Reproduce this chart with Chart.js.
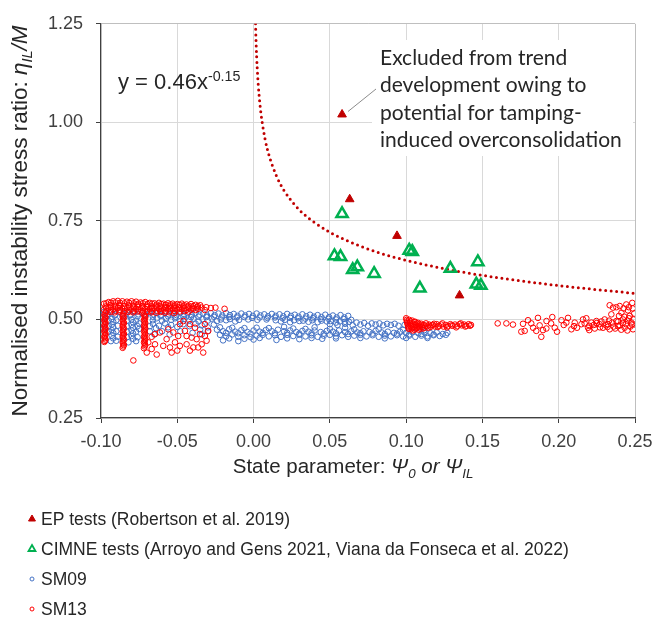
<!DOCTYPE html>
<html>
<head>
<meta charset="utf-8">
<title>Instability stress ratio vs state parameter</title>
<script src="https://cdn.jsdelivr.net/npm/chart.js@4.4.1/dist/chart.umd.min.js"></script>
<style>
  html, body { margin: 0; padding: 0; background: #ffffff; }
  #wrap { position: relative; width: 671px; height: 630px; }
</style>
</head>
<body>
<div id="wrap"><canvas id="chart" width="671" height="630"></canvas></div>
<script>
// ---- data ----
const X_TICKS = [-0.10, -0.05, 0.00, 0.05, 0.10, 0.15, 0.20, 0.25];
const Y_TICKS = [0.25, 0.50, 0.75, 1.00, 1.25];

// EP tests (Robertson et al. 2019) - first point is the excluded one
const EP = [[0.058, 1.020], [0.063, 0.805], [0.094, 0.712], [0.135, 0.561]];

// CIMNE tests
const CIMNE = [
  [0.058, 0.768], [0.053, 0.661], [0.057, 0.659], [0.065, 0.626], [0.068, 0.633],
  [0.079, 0.616], [0.102, 0.675], [0.104, 0.672], [0.109, 0.579], [0.129, 0.629],
  [0.147, 0.646], [0.146, 0.589], [0.149, 0.586]
];

// trend line y = 0.46x^-0.15
const TREND_X = [0.0013, 0.0015, 0.002, 0.0025, 0.003, 0.004, 0.005, 0.0075, 0.01, 0.015, 0.02, 0.03, 0.04, 0.05, 0.06, 0.08, 0.10, 0.13, 0.16, 0.20, 0.25];
const TREND_Y = [1.250, 1.220, 1.168, 1.130, 1.099, 1.053, 1.018, 0.958, 0.918, 0.864, 0.827, 0.778, 0.746, 0.721, 0.702, 0.672, 0.650, 0.625, 0.606, 0.586, 0.566];

// SM09 (blue circles)
const SM09 = [
  // upper band
  [-0.098, 0.519], [-0.093, 0.518], [-0.088, 0.520], [-0.083, 0.518], [-0.078, 0.519], [-0.073, 0.517], [-0.068, 0.518],
  [-0.063, 0.517], [-0.058, 0.518], [-0.053, 0.516], [-0.048, 0.517], [-0.043, 0.516], [-0.038, 0.517], [-0.033, 0.515],
  [-0.028, 0.516], [-0.023, 0.515], [-0.018, 0.516], [-0.013, 0.514], [-0.008, 0.515], [-0.003, 0.514], [0.002, 0.515],
  [0.007, 0.513], [0.012, 0.514], [0.017, 0.513], [0.022, 0.514], [0.027, 0.512], [0.032, 0.513], [0.037, 0.512],
  [0.042, 0.511], [0.047, 0.512], [0.052, 0.510], [0.057, 0.511], [0.062, 0.509],
  [-0.0955, 0.514], [-0.0905, 0.513], [-0.0855, 0.514], [-0.0805, 0.512], [-0.0755, 0.513], [-0.0705, 0.512],
  [-0.0655, 0.513], [-0.0605, 0.512], [-0.0555, 0.513], [-0.0505, 0.511], [-0.0455, 0.512], [-0.0405, 0.511],
  [-0.0355, 0.512], [-0.0305, 0.510], [-0.0255, 0.511], [-0.0205, 0.510], [-0.0155, 0.511], [-0.0105, 0.509],
  [-0.0055, 0.510], [-0.0005, 0.509], [0.0045, 0.510], [0.0095, 0.508], [0.0145, 0.509], [0.0195, 0.508],
  [0.0245, 0.509], [0.0295, 0.507], [0.0345, 0.508], [0.0395, 0.507], [0.0445, 0.506], [0.0495, 0.506],
  [0.0545, 0.505], [0.0595, 0.505],
  [-0.096, 0.509], [-0.091, 0.510], [-0.086, 0.508], [-0.081, 0.510], [-0.076, 0.508], [-0.071, 0.509], [-0.066, 0.507],
  [-0.061, 0.509], [-0.056, 0.508], [-0.051, 0.507], [-0.046, 0.508], [-0.041, 0.506], [-0.036, 0.507], [-0.031, 0.506],
  [-0.026, 0.507], [-0.021, 0.505], [-0.016, 0.506], [-0.011, 0.505], [-0.006, 0.506], [-0.001, 0.504], [0.004, 0.505],
  [0.009, 0.504], [0.014, 0.505], [0.019, 0.503], [0.024, 0.504], [0.029, 0.503], [0.034, 0.502], [0.039, 0.503],
  [0.044, 0.501], [0.049, 0.502], [0.054, 0.500], [0.059, 0.501], [0.064, 0.499],
  [-0.0635, 0.503], [-0.0575, 0.502], [-0.0515, 0.503], [-0.0455, 0.501], [-0.0395, 0.502], [-0.0335, 0.501],
  [-0.0275, 0.502], [-0.0215, 0.500], [-0.0155, 0.501], [-0.0095, 0.499], [-0.0035, 0.500], [0.0025, 0.499],
  [0.0085, 0.500], [0.0145, 0.498], [0.0205, 0.499], [0.0265, 0.498], [0.0325, 0.497], [0.0385, 0.498],
  [0.0445, 0.497], [0.0505, 0.496], [0.0565, 0.495], [0.0625, 0.494], [0.0675, 0.492], [0.0725, 0.491],
  [0.0775, 0.490], [0.0825, 0.490], [0.0875, 0.489], [0.0925, 0.489],
  [-0.066, 0.498], [-0.060, 0.497], [-0.054, 0.499], [-0.048, 0.496], [-0.042, 0.498], [-0.036, 0.495], [-0.030, 0.497],
  [-0.024, 0.496], [-0.018, 0.498], [-0.012, 0.495], [0.018, 0.495], [0.024, 0.493], [0.030, 0.496], [0.036, 0.494],
  [0.042, 0.493], [0.048, 0.495], [0.054, 0.492], [0.060, 0.494],
  [0.050, 0.488], [0.055, 0.486], [0.060, 0.489], [0.065, 0.485], [0.070, 0.487], [0.075, 0.484], [0.080, 0.487],
  [0.085, 0.485], [0.090, 0.486], [0.095, 0.484], [0.099, 0.486],
  // left columns below the band
  [-0.093, 0.501], [-0.092, 0.494], [-0.093, 0.487], [-0.092, 0.480], [-0.093, 0.473], [-0.092, 0.466], [-0.093, 0.459],
  [-0.092, 0.452], [-0.090, 0.498], [-0.089, 0.484], [-0.090, 0.470], [-0.089, 0.456], [-0.090, 0.446],
  [-0.080, 0.500], [-0.079, 0.493], [-0.080, 0.486], [-0.079, 0.479], [-0.080, 0.472], [-0.079, 0.465], [-0.080, 0.458],
  [-0.079, 0.451], [-0.077, 0.497], [-0.076, 0.483], [-0.077, 0.469], [-0.076, 0.455], [-0.077, 0.445],
  [-0.095, 0.497], [-0.095, 0.483], [-0.095, 0.469],
  [-0.0985, 0.505], [-0.0985, 0.490], [-0.0985, 0.476], [-0.0935, 0.445], [-0.083, 0.497], [-0.083, 0.483],
  [-0.083, 0.469], [-0.083, 0.455], [-0.082, 0.442], [-0.075, 0.490], [-0.075, 0.476], [-0.068, 0.483],
  [-0.068, 0.470], [-0.065, 0.462],
  [-0.066, 0.489], [-0.062, 0.484], [-0.058, 0.490], [-0.054, 0.486], [-0.050, 0.481], [-0.046, 0.488], [-0.042, 0.483],
  [-0.038, 0.489], [-0.034, 0.485], [-0.030, 0.480], [-0.026, 0.487], [-0.064, 0.478], [-0.056, 0.480],
  [-0.060, 0.470], [-0.055, 0.462], [-0.048, 0.470], [-0.040, 0.466], [-0.035, 0.474],
  // lower band
  [-0.024, 0.474], [-0.020, 0.470], [-0.016, 0.475], [-0.012, 0.469], [-0.008, 0.473], [-0.004, 0.468], [0.000, 0.472],
  [0.004, 0.469], [0.008, 0.473], [0.012, 0.470], [0.016, 0.474], [0.020, 0.470], [0.024, 0.472], [0.028, 0.468],
  [0.032, 0.471], [0.036, 0.469], [0.040, 0.472], [0.044, 0.468], [0.048, 0.471], [0.052, 0.469], [0.056, 0.472],
  [0.060, 0.468], [0.064, 0.470], [0.068, 0.467], [0.072, 0.470], [0.076, 0.468], [0.080, 0.471], [0.084, 0.467],
  [0.088, 0.469], [0.092, 0.466], [0.096, 0.469], [0.100, 0.466], [0.104, 0.468], [0.108, 0.465], [0.112, 0.467],
  [0.116, 0.465], [0.120, 0.467],
  [-0.018, 0.466], [-0.010, 0.465], [-0.002, 0.464], [0.006, 0.466], [0.014, 0.465], [0.022, 0.466], [0.030, 0.464],
  [0.038, 0.465], [0.046, 0.464], [0.054, 0.465], [0.062, 0.463], [0.070, 0.465], [0.078, 0.464], [0.086, 0.463],
  [0.094, 0.464], [0.102, 0.462], [0.110, 0.463], [0.118, 0.462], [0.124, 0.463],
  [-0.022, 0.480], [-0.014, 0.479], [-0.006, 0.478], [0.002, 0.479], [0.010, 0.478], [0.026, 0.477], [0.034, 0.476],
  [0.050, 0.476], [0.066, 0.475], [0.082, 0.475], [0.098, 0.474], [0.112, 0.473],
  [-0.022, 0.461], [-0.018, 0.457], [-0.014, 0.462], [-0.010, 0.456], [-0.006, 0.460], [-0.002, 0.455], [0.002, 0.459],
  [0.006, 0.461], [0.010, 0.457], [0.014, 0.460], [0.018, 0.456], [0.022, 0.461], [0.026, 0.458], [0.030, 0.461],
  [0.034, 0.457], [0.038, 0.460], [0.042, 0.456], [0.046, 0.459], [0.050, 0.461], [0.054, 0.457], [0.058, 0.460],
  [0.062, 0.456], [0.066, 0.459], [0.070, 0.461], [0.074, 0.457], [0.078, 0.460], [0.082, 0.456], [0.086, 0.459],
  [0.090, 0.457], [0.094, 0.460], [0.098, 0.457], [0.102, 0.459], [0.106, 0.456], [0.110, 0.459], [0.114, 0.457],
  [0.118, 0.460], [0.122, 0.458], [0.126, 0.461],
  [-0.016, 0.452], [-0.006, 0.451], [0.004, 0.453], [0.022, 0.452], [0.038, 0.453], [0.054, 0.452], [0.070, 0.453],
  [0.086, 0.452], [0.100, 0.453], [0.114, 0.453],
  [-0.020, 0.447], [-0.010, 0.445], [0.000, 0.449], [0.015, 0.448], [0.030, 0.450], [0.045, 0.451], [-0.030, 0.470],
  [-0.034, 0.462], [0.127, 0.466], [0.060, 0.479], [0.040, 0.480], [0.020, 0.481]
];

// SM13 (red circles)
const SM13 = [
  // dense band on the loose side
  [-0.098, 0.540], [-0.095, 0.544], [-0.092, 0.546], [-0.089, 0.547], [-0.086, 0.546], [-0.083, 0.545], [-0.080, 0.546],
  [-0.077, 0.545], [-0.074, 0.543], [-0.071, 0.544], [-0.068, 0.542], [-0.065, 0.541], [-0.062, 0.542], [-0.059, 0.540],
  [-0.056, 0.541], [-0.053, 0.540], [-0.050, 0.539], [-0.047, 0.540], [-0.044, 0.538], [-0.041, 0.539], [-0.038, 0.537],
  [-0.035, 0.536],
  [-0.0965, 0.541], [-0.0935, 0.542], [-0.0905, 0.543], [-0.0875, 0.542], [-0.0845, 0.541], [-0.0815, 0.542],
  [-0.0785, 0.541], [-0.0755, 0.540], [-0.0725, 0.541], [-0.0695, 0.539], [-0.0665, 0.540], [-0.0635, 0.538],
  [-0.0605, 0.539], [-0.0575, 0.537], [-0.0545, 0.538], [-0.0515, 0.536], [-0.0485, 0.537], [-0.0455, 0.536],
  [-0.0425, 0.535], [-0.0395, 0.534], [-0.0365, 0.534],
  [-0.097, 0.533], [-0.094, 0.536], [-0.091, 0.535], [-0.088, 0.537], [-0.085, 0.534], [-0.082, 0.536], [-0.079, 0.535],
  [-0.076, 0.537], [-0.073, 0.534], [-0.070, 0.535], [-0.067, 0.533], [-0.064, 0.535], [-0.061, 0.534], [-0.058, 0.532],
  [-0.055, 0.534], [-0.052, 0.533], [-0.049, 0.531], [-0.046, 0.533], [-0.043, 0.532], [-0.040, 0.530], [-0.037, 0.531],
  [-0.034, 0.530],
  [-0.0965, 0.530], [-0.0935, 0.532], [-0.0905, 0.531], [-0.0875, 0.533], [-0.0845, 0.530], [-0.0815, 0.532],
  [-0.0785, 0.531], [-0.0755, 0.532], [-0.0725, 0.530], [-0.0695, 0.531], [-0.0665, 0.529], [-0.0635, 0.531],
  [-0.0605, 0.530], [-0.0575, 0.529], [-0.0545, 0.530], [-0.0515, 0.529], [-0.0485, 0.528], [-0.0455, 0.529],
  [-0.0425, 0.528], [-0.0395, 0.527], [-0.0365, 0.527],
  [-0.098, 0.525], [-0.095, 0.528], [-0.092, 0.526], [-0.089, 0.529], [-0.086, 0.527], [-0.083, 0.528], [-0.080, 0.526],
  [-0.077, 0.527], [-0.074, 0.525], [-0.071, 0.527], [-0.068, 0.526], [-0.065, 0.528], [-0.062, 0.526], [-0.059, 0.525],
  [-0.056, 0.527], [-0.053, 0.526], [-0.050, 0.525], [-0.047, 0.526], [-0.044, 0.524], [-0.041, 0.525], [-0.038, 0.524],
  [-0.0965, 0.521], [-0.0935, 0.523], [-0.0905, 0.522], [-0.0875, 0.524], [-0.0845, 0.521], [-0.0815, 0.523],
  [-0.0785, 0.522], [-0.0755, 0.523], [-0.0725, 0.521], [-0.0695, 0.522], [-0.0665, 0.521], [-0.0635, 0.522],
  [-0.0605, 0.521], [-0.0575, 0.521], [-0.0545, 0.522], [-0.0515, 0.521], [-0.0485, 0.520], [-0.0455, 0.521],
  [-0.0425, 0.520],
  [-0.097, 0.517], [-0.094, 0.519], [-0.091, 0.518], [-0.088, 0.520], [-0.085, 0.517], [-0.082, 0.519], [-0.079, 0.518],
  [-0.076, 0.520], [-0.073, 0.517], [-0.070, 0.519], [-0.067, 0.518], [-0.064, 0.517], [-0.061, 0.519], [-0.058, 0.517],
  [-0.055, 0.518], [-0.052, 0.516],
  [-0.031, 0.531], [-0.028, 0.529], [-0.025, 0.530], [-0.019, 0.527], [-0.032, 0.524],
  // vertical streaks
  [-0.0978, 0.512], [-0.0970, 0.505], [-0.0978, 0.498], [-0.0970, 0.491], [-0.0978, 0.484], [-0.0970, 0.477],
  [-0.0978, 0.470], [-0.0970, 0.463], [-0.0978, 0.456], [-0.0970, 0.449], [-0.0978, 0.443],
  [-0.0974, 0.5085], [-0.0974, 0.5015], [-0.0974, 0.4945], [-0.0974, 0.4875], [-0.0974, 0.4805], [-0.0974, 0.4735],
  [-0.0974, 0.4665], [-0.0974, 0.4595], [-0.0974, 0.4525], [-0.0974, 0.4455],
  [-0.0858, 0.512], [-0.0850, 0.505], [-0.0858, 0.498], [-0.0850, 0.491], [-0.0858, 0.484], [-0.0850, 0.477],
  [-0.0858, 0.470], [-0.0850, 0.463], [-0.0858, 0.456], [-0.0850, 0.449], [-0.0858, 0.442], [-0.0850, 0.435],
  [-0.0858, 0.428],
  [-0.0854, 0.5085], [-0.0854, 0.5015], [-0.0854, 0.4945], [-0.0854, 0.4875], [-0.0854, 0.4805], [-0.0854, 0.4735],
  [-0.0854, 0.4665], [-0.0854, 0.4595], [-0.0854, 0.4525], [-0.0854, 0.4455], [-0.0854, 0.4385], [-0.0854, 0.4315],
  [-0.0718, 0.512], [-0.0710, 0.505], [-0.0718, 0.498], [-0.0710, 0.491], [-0.0718, 0.484], [-0.0710, 0.477],
  [-0.0718, 0.470], [-0.0710, 0.463], [-0.0718, 0.456], [-0.0710, 0.449], [-0.0718, 0.442], [-0.0710, 0.435],
  [-0.0718, 0.427],
  [-0.0714, 0.5085], [-0.0714, 0.5015], [-0.0714, 0.4945], [-0.0714, 0.4875], [-0.0714, 0.4805], [-0.0714, 0.4735],
  [-0.0714, 0.4665], [-0.0714, 0.4595], [-0.0714, 0.4525], [-0.0714, 0.4455], [-0.0714, 0.4385], [-0.0714, 0.4315],
  // scattered below the band
  [-0.0788, 0.396], [-0.070, 0.416], [-0.0668, 0.425], [-0.0646, 0.437], [-0.0635, 0.411], [-0.0614, 0.467],
  [-0.057, 0.450], [-0.0548, 0.429], [-0.0537, 0.416], [-0.0515, 0.442], [-0.0494, 0.458], [-0.0483, 0.488],
  [-0.045, 0.471], [-0.0439, 0.437], [-0.0417, 0.421], [-0.0406, 0.454], [-0.0384, 0.479], [-0.0363, 0.429],
  [-0.0352, 0.463], [-0.033, 0.416], [-0.0319, 0.488], [-0.0308, 0.446], [-0.0297, 0.471], [-0.050, 0.421],
  [-0.0592, 0.433], [-0.046, 0.496], [-0.0417, 0.488], [-0.0373, 0.450], [-0.0483, 0.433], [-0.0559, 0.475],
  [-0.0668, 0.456], [-0.069, 0.442], [-0.0646, 0.463], [-0.0395, 0.429], [-0.034, 0.437], [-0.0526, 0.467],
  [-0.0439, 0.458], [-0.0319, 0.458],
  // blob near 0.10 and its tail
  [0.1000, 0.503], [0.1005, 0.495], [0.1010, 0.487], [0.1015, 0.480], [0.1020, 0.499], [0.1025, 0.491], [0.1030, 0.483],
  [0.1035, 0.476], [0.1040, 0.497], [0.1045, 0.489], [0.1050, 0.481], [0.1055, 0.474], [0.1060, 0.494], [0.1065, 0.486],
  [0.1070, 0.479], [0.1080, 0.491], [0.1085, 0.483], [0.1090, 0.477], [0.1100, 0.489], [0.1105, 0.481], [0.1115, 0.486],
  [0.1120, 0.479], [0.1130, 0.490], [0.1140, 0.483], [0.1150, 0.487], [0.1160, 0.481], [0.1175, 0.486], [0.1190, 0.482],
  [0.1003, 0.499], [0.1008, 0.491], [0.1013, 0.483], [0.1018, 0.476], [0.1028, 0.495], [0.1033, 0.487], [0.1038, 0.479],
  [0.1043, 0.472], [0.1053, 0.493], [0.1058, 0.485], [0.1063, 0.477], [0.1073, 0.489], [0.1078, 0.481], [0.1083, 0.474],
  [0.1095, 0.485], [0.1110, 0.477], [0.1125, 0.484], [0.1145, 0.479], [0.1165, 0.485], [0.1183, 0.489], [0.1208, 0.481],
  [0.1238, 0.490], [0.1268, 0.480], [0.1298, 0.485], [0.1328, 0.480], [0.1358, 0.490], [0.1388, 0.482], [0.1418, 0.484],
  [0.1200, 0.488], [0.1215, 0.484], [0.1230, 0.487], [0.1245, 0.482], [0.1260, 0.486], [0.1275, 0.483], [0.1290, 0.488],
  [0.1305, 0.484], [0.1320, 0.487], [0.1335, 0.483], [0.1350, 0.488], [0.1365, 0.485], [0.1380, 0.487], [0.1395, 0.484],
  [0.1410, 0.488], [0.1425, 0.486],
  // dense side, right
  [0.160, 0.490], [0.1657, 0.490], [0.1766, 0.489], [0.1777, 0.471], [0.1755, 0.469], [0.1799, 0.498], [0.1832, 0.479],
  [0.1864, 0.504], [0.1875, 0.485], [0.1853, 0.471], [0.1886, 0.456], [0.1897, 0.473], [0.1919, 0.477], [0.1958, 0.506],
  [0.1974, 0.479], [0.1989, 0.469], [0.2018, 0.498], [0.2033, 0.486], [0.2061, 0.504], [0.2083, 0.475], [0.2105, 0.492],
  [0.2120, 0.479], [0.2149, 0.488], [0.2159, 0.500], [0.2181, 0.503], [0.2192, 0.479], [0.2214, 0.492], [0.2236, 0.477],
  [0.2247, 0.496], [0.2268, 0.488], [0.2290, 0.479], [0.2301, 0.500], [0.2323, 0.488], [0.2334, 0.475], [0.2334, 0.536],
  [0.2356, 0.530], [0.2378, 0.496], [0.2389, 0.483], [0.2400, 0.534], [0.2411, 0.517], [0.2421, 0.500], [0.2432, 0.479],
  [0.2443, 0.538], [0.2454, 0.523], [0.2465, 0.509], [0.2476, 0.492], [0.2482, 0.542], [0.2487, 0.475], [0.2460, 0.531],
  [0.2425, 0.528], [0.2378, 0.531], [0.2345, 0.513], [0.2395, 0.509], [0.2440, 0.488], [0.2470, 0.482], [0.2410, 0.474],
  [0.2360, 0.482], [0.2310, 0.485], [0.2270, 0.480], [0.2230, 0.486], [0.2490, 0.500], [0.2495, 0.515], [0.2485, 0.528],
  [0.2050, 0.492], [0.2100, 0.483], [0.2170, 0.490], [0.2200, 0.484], [0.2250, 0.491], [0.2280, 0.495], [0.2320, 0.481],
  [0.2350, 0.492], [0.2390, 0.495], [0.2420, 0.491], [0.2450, 0.497], [0.2480, 0.487], [0.2460, 0.503], [0.2430, 0.507],
  [0.2400, 0.485], [0.2370, 0.477], [0.2330, 0.497], [0.2450, 0.472], [0.2200, 0.473], [0.1950, 0.490], [0.1920, 0.496],
  [0.1820, 0.490], [0.1700, 0.487]
];

const FONT = "'Liberation Sans', Arial, sans-serif";
const TEXT_COLOR = '#262626';

const toXY = arr => arr.map(p => ({ x: p[0], y: p[1] }));

const X_TITLE = [
  { t: 'State parameter: ' }, { t: 'Ψ', i: 1 }, { t: '0', i: 1, sub: 1 }, { t: ' or ', i: 1 },
  { t: 'Ψ', i: 1 }, { t: 'IL', i: 1, sub: 1 }
];
const Y_TITLE = [
  { t: 'Normalised instability stress ratio: ' }, { t: 'η', i: 1 }, { t: 'IL', i: 1, sub: 1 },
  { t: '/', i: 1 }, { t: 'M', i: 1 }
];
const EQUATION = [{ t: 'y = 0.46x' }, { t: '-0.15', sup: 1 }];
const NOTE_LINES = ['Excluded from trend', 'development owing to', 'potential for tamping-', 'induced overconsolidation'];

function partFont(p, size) {
  const s = (p.sub || p.sup) ? size * 0.65 : size;
  return (p.i ? 'italic ' : '') + s + 'px ' + FONT;
}

function drawRich(ctx, parts, x, y, size, align) {
  let total = 0;
  parts.forEach(p => { ctx.font = partFont(p, size); total += ctx.measureText(p.t).width; });
  let cx = align === 'center' ? x - total / 2 : x;
  parts.forEach(p => {
    ctx.font = partFont(p, size);
    const dy = p.sub ? size * 0.22 : (p.sup ? -size * 0.38 : 0);
    ctx.fillText(p.t, cx, y + dy);
    cx += ctx.measureText(p.t).width;
  });
}

function drawMarker(ctx, ds, x, y) {
  ctx.save();
  ctx.strokeStyle = ds.borderColor;
  ctx.fillStyle = ds.backgroundColor;
  ctx.lineWidth = ds.legendLine;
  ctx.beginPath();
  const r = ds.legendRadius;
  if (ds.pointStyle === 'triangle') {
    ctx.moveTo(x, y - r);
    ctx.lineTo(x + r * 0.87, y + r * 0.5);
    ctx.lineTo(x - r * 0.87, y + r * 0.5);
    ctx.closePath();
  } else {
    ctx.arc(x, y, r, 0, Math.PI * 2);
  }
  ctx.fill();
  ctx.stroke();
  ctx.restore();
}

const extrasPlugin = {
  id: 'extras',
  beforeDatasetsDraw(chart) {
    // white box behind the note, hides the grid like the source
    const ctx = chart.ctx;
    ctx.save();
    ctx.fillStyle = '#ffffff';
    ctx.fillRect(372, 40, 261, 116);
    ctx.restore();
  },
  afterDraw(chart) {
    const ctx = chart.ctx;
    const area = chart.chartArea;
    ctx.save();
    ctx.fillStyle = TEXT_COLOR;
    ctx.textBaseline = 'alphabetic';

    // axis titles
    drawRich(ctx, X_TITLE, 353, 473, 20.5, 'center');
    ctx.save();
    ctx.translate(27, (area.top + area.bottom) / 2);
    ctx.rotate(-Math.PI / 2);
    drawRich(ctx, Y_TITLE, 0, 0, 22.5, 'center');
    ctx.restore();

    // trend equation
    drawRich(ctx, EQUATION, 118, 89, 22, 'left');

    // note with arrow to the excluded EP point
    ctx.font = "21px Lato, 'Open Sans', sans-serif";
    NOTE_LINES.forEach((line, i) => ctx.fillText(line, 380, 65 + i * 27.3));
    const xs = chart.scales.x, ys = chart.scales.y;
    const px = xs.getPixelForValue(EP[0][0]), py = ys.getPixelForValue(EP[0][1]);
    ctx.strokeStyle = '#8c8c8c';
    ctx.lineWidth = 1;
    ctx.beginPath();
    ctx.moveTo(376, 89);
    ctx.lineTo(px + 6, py - 3);
    ctx.stroke();

    // legend, one entry per row
    ctx.font = '17.5px ' + FONT;
    ctx.textBaseline = 'middle';
    let row = 0;
    chart.data.datasets.forEach(ds => {
      if (!ds.inLegend) return;
      const y = 519 + row * 30;
      drawMarker(ctx, ds, 32, y);
      ctx.fillStyle = TEXT_COLOR;
      ctx.fillText(ds.label, 41, y + 1);
      row++;
    });
    ctx.restore();
  }
};

const tickLabel = v => Math.abs(v) < 1e-9 ? '0.00' : v.toFixed(2);
const edgeGrid = (ctx, max) => (ctx.tick && Math.abs(ctx.tick.value - max) < 1e-9) ? '#bfbfbf' : '#d9d9d9';

new Chart(document.getElementById('chart'), {
  type: 'scatter',
  data: {
    datasets: [
      {
        label: 'EP tests (Robertson et al. 2019)', data: toXY(EP), order: 0, inLegend: true,
        pointStyle: 'triangle', pointRadius: 5, borderColor: '#C00000', backgroundColor: '#C00000',
        borderWidth: 1, legendRadius: 4, legendLine: 1
      },
      {
        label: 'CIMNE tests (Arroyo and Gens 2021, Viana da Fonseca et al. 2022)', data: toXY(CIMNE), order: 1,
        inLegend: true, pointStyle: 'triangle', pointRadius: 6.5, borderColor: '#00B050',
        backgroundColor: 'rgba(255,255,255,0)', borderWidth: 2.5, legendRadius: 4, legendLine: 1.8
      },
      {
        label: 'SM09', data: toXY(SM09), order: 4, inLegend: true, pointStyle: 'circle', pointRadius: 2.8,
        borderColor: '#4472C4', backgroundColor: 'rgba(255,255,255,0)', borderWidth: 1,
        legendRadius: 2, legendLine: 1
      },
      {
        label: 'SM13', data: toXY(SM13), order: 3, inLegend: true, pointStyle: 'circle', pointRadius: 2.8,
        borderColor: '#FF0000', backgroundColor: 'rgba(255,255,255,0)', borderWidth: 1,
        legendRadius: 2, legendLine: 1
      },
      {
        label: 'Trend', data: TREND_X.map((x, i) => ({ x: x, y: TREND_Y[i] })), order: 2, inLegend: false,
        showLine: true, pointRadius: 0, borderColor: '#C00000', borderWidth: 3, borderDash: [0, 5.5],
        borderCapStyle: 'round', cubicInterpolationMode: 'monotone', fill: false
      }
    ]
  },
  options: {
    responsive: false,
    animation: false,
    events: [],
    layout: { padding: { top: 20, right: 36, left: 0, bottom: 0 } },
    plugins: { legend: { display: false }, tooltip: { enabled: false } },
    scales: {
      x: {
        type: 'linear', min: X_TICKS[0], max: X_TICKS[X_TICKS.length - 1],
        afterBuildTicks: s => { s.ticks = X_TICKS.map(v => ({ value: v })); },
        afterFit: s => { s.height = 212; },
        ticks: { callback: tickLabel, color: '#404040', font: { family: FONT, size: 18 }, padding: 8, maxRotation: 0 },
        grid: { color: c => edgeGrid(c, 0.25), tickLength: 5, tickColor: '#404040' },
        border: { color: '#404040', width: 1.2 }
      },
      y: {
        type: 'linear', min: Y_TICKS[0], max: Y_TICKS[Y_TICKS.length - 1],
        afterBuildTicks: s => { s.ticks = Y_TICKS.map(v => ({ value: v })); },
        afterFit: s => { s.width = 101; },
        ticks: { callback: tickLabel, color: '#404040', font: { family: FONT, size: 18 }, padding: 13 },
        grid: { color: c => edgeGrid(c, 1.25), tickLength: 5, tickColor: '#404040' },
        border: { color: '#404040', width: 1.2 }
      }
    }
  },
  plugins: [extrasPlugin]
});
</script>
</body>
</html>
